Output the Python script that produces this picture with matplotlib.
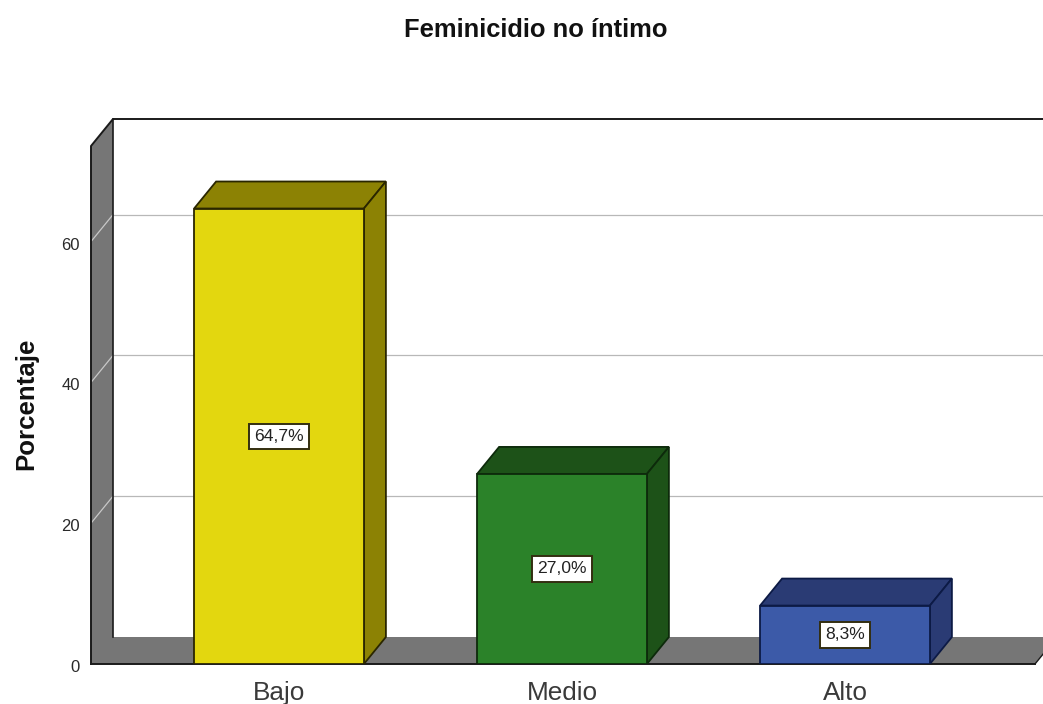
import matplotlib
matplotlib.use('Agg')
import matplotlib.pyplot as plt
from matplotlib.transforms import ScaledTranslation

plt.rcParams['font.family'] = ['Liberation Sans', 'DejaVu Sans']

categorias = ['Bajo', 'Medio', 'Alto']
porcentajes = [64.7, 27.0, 8.3]
etiquetas = ['64,7%', '27,0%', '8,3%']
marcas_y = [0, 20, 40, 60]
rejilla = [20, 40, 60]

# colores: frente, lado/arriba, borde
frente = ['#e3d70f', '#2b8229', '#3c5aa8']
lado = ['#8c8204', '#1d5218', '#2a3b74']
borde = ['#2a2600', '#0d2a0b', '#0c1a45']

W, H = 1043, 704
fig = plt.figure(figsize=(W / 100, H / 100), dpi=100)
# el eje va de x=91 a x=1043 y de y=664 a y=146 en pixeles
ax = fig.add_axes([91 / W, (H - 664) / H, (1043 - 91) / W, (664 - 146) / H])
ax.set_xlim((91 - 279) / 283, (1043 - 279) / 283)
ax.set_ylim(0, 518 / 7.04)
ax.patch.set_visible(False)
for s in ax.spines.values():
    s.set_visible(False)

# profundidad del efecto 3D
dx = 22 / 283
dy = 27 / 7.04
x0, x1 = ax.get_xlim()
y1 = ax.get_ylim()[1]
x_fin = (1035 - 279) / 283
negro = '#1a1a1a'
gris = '#767676'

# pared izquierda y piso en un solo poligono
ax.fill([x0, x0, x0 + dx, x0 + dx, x_fin + dx, x_fin],
        [0, y1, y1 + dy, dy, dy, 0], color=gris, lw=0, zorder=1, clip_on=False)

# rejilla
for v in rejilla:
    ax.plot([x0 + dx, x1], [v + dy, v + dy], color='#b8b8b8', lw=0.9, zorder=2, clip_on=False)
    ax.plot([x0, x0 + dx], [v, v + dy], color='#c8c8c8', lw=0.9, zorder=2, clip_on=False)

# contornos del fondo
ax.plot([x0, x0, x0 + dx, x1], [0, y1, y1 + dy, y1 + dy], color=negro, lw=1.4, zorder=3, clip_on=False)
ax.plot([x0 + dx, x0 + dx], [dy, y1 + dy], color=negro, lw=1.2, zorder=3, clip_on=False)
ax.plot([x0, x_fin], [0, 0], color=negro, lw=1.4, zorder=3, clip_on=False)
ax.plot([x_fin, x_fin + dx], [0, dy], color=negro, lw=1.0, zorder=3, clip_on=False)

# barras
ancho = 0.6
for i, v in enumerate(porcentajes):
    a, b = i - ancho / 2, i + ancho / 2
    ax.fill([a, a + dx, b + dx, b], [v, v + dy, v + dy, v], fc=lado[i], ec=borde[i], lw=1.3, zorder=4)
    ax.fill([b, b + dx, b + dx, b], [0, dy, v + dy, v], fc=lado[i], ec=borde[i], lw=1.3, zorder=4)
    ax.bar(i, v, width=ancho, color=frente[i], edgecolor=borde[i], linewidth=1.3, zorder=5)
    ax.text(i, v / 2, etiquetas[i], ha='center', va='center', fontsize=12.6, color='#222222', zorder=6,
            bbox=dict(boxstyle='square,pad=0.3', fc='white', ec='#332e10', lw=1.4))

ax.set_xticks(range(3))
ax.set_xticklabels(categorias, fontsize=18.8, color='#3a3a3a')
ax.set_yticks(marcas_y)
ax.set_yticklabels([str(v) for v in marcas_y], fontsize=12, color='#2a2a2a')
ax.tick_params(axis='both', length=0)
ax.tick_params(axis='x', pad=12.5)
ax.tick_params(axis='y', pad=8)
# las etiquetas del eje y van un poco mas abajo que la rejilla
bajar = ScaledTranslation(0, -1.5 / 72, fig.dpi_scale_trans)
for t in ax.get_yticklabels():
    t.set_transform(t.get_transform() + bajar)

fig.text(535.5 / W, 1 - 30 / H, 'Feminicidio no íntimo', ha='center', va='center',
         fontsize=18.4, fontweight='bold', color='#111111')
fig.text(26 / W, 1 - 404 / H, 'Porcentaje', ha='center', va='center', rotation=90,
         fontsize=18.6, fontweight='bold', color='#111111')

fig.savefig('out.png', dpi=100)
